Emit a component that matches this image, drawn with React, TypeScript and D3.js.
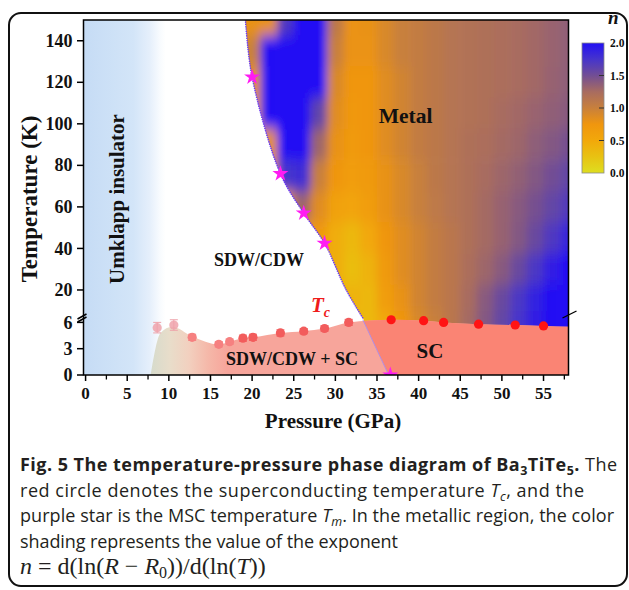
import React, { useEffect, useRef } from "react";
import * as d3 from "d3";

// axis ticks
const pressureTicks = [0, 5, 10, 15, 20, 25, 30, 35, 40, 45, 50, 55];
const tempTicksHigh = [20, 40, 60, 80, 100, 120, 140];
const tempTicksLow = [0, 3, 6];
const nTicks = [0.0, 0.5, 1.0, 1.5, 2.0];

// superconducting temperature Tc (red circles)
const tcP = [8.6, 10.6, 12.8, 16.0, 17.3, 18.9, 20.1, 23.4, 26.2, 28.7, 31.6, 36.7, 40.6, 43.0, 47.2, 51.6, 55.0];
const tcT = [5.4, 5.7, 4.3, 3.5, 3.8, 4.2, 4.3, 4.8, 5.0, 5.3, 6.0, 6.3, 6.2, 6.0, 5.8, 5.7, 5.6];
const tcErr = [0.6, 0.6, 0.35, 0.3, 0.3, 0.35, 0.35, 0.35, 0.3, 0.3, 0.35, 0, 0, 0, 0, 0, 0];

// MSC temperature Tm (magenta stars)
const tmP = [20.0, 23.4, 26.2, 28.7, 36.6];
const tmT = [122.5, 76, 57, 42.5, 0];

// SDW/CDW | metal boundary (dotted)
const bndP = [19.2, 20.0, 23.4, 26.2, 28.7, 31.3, 33.3];
const bndT = [150, 122.5, 76, 57, 42.5, 20, 6.5];

// line between SDW/CDW + SC and SC
const splitP = [33.3, 36.4];
const splitT = [6.3, 0];

// outline of the superconducting dome
const domeP = [7.8, 9.0, 10.4, 12.8, 16.0, 17.3, 18.9, 20.1, 23.4, 26.2, 28.7, 31.6, 36.7, 40.6, 43.0, 47.2, 51.6, 55.0, 58.0];
const domeT = [0, 4.8, 5.5, 4.4, 3.5, 3.8, 4.2, 4.3, 4.8, 5.0, 5.3, 6.0, 6.3, 6.2, 6.0, 5.8, 5.7, 5.6, 5.5];

// exponent n in the metallic region (rows = T, columns = P)
const nP = [18, 20, 22, 24, 26, 28, 30, 32, 34, 36, 38, 40, 42, 44, 46, 48, 50, 52, 54, 56, 58];
const nT = [150, 135, 120, 105, 90, 75, 60, 45, 30, 15, 6];
const nGrid = [
  [0.8, 0.8, 0.8, 1.7, 2.0, 2.0, 1.1, 0.78, 0.8, 0.9, 1.0, 1.05, 1.1, 1.15, 1.18, 1.2, 1.22, 1.25, 1.28, 1.32, 1.36],
  [0.8, 1.0, 2.0, 2.0, 2.0, 2.0, 1.0, 0.78, 0.78, 0.9, 1.0, 1.05, 1.1, 1.15, 1.18, 1.2, 1.22, 1.25, 1.28, 1.32, 1.36],
  [0.8, 0.8, 2.0, 2.0, 2.0, 2.0, 0.9, 0.75, 0.75, 0.85, 0.95, 1.05, 1.1, 1.15, 1.18, 1.2, 1.22, 1.25, 1.28, 1.33, 1.37],
  [0.8, 0.8, 2.0, 2.0, 2.0, 1.6, 0.85, 0.72, 0.75, 0.85, 0.95, 1.05, 1.1, 1.15, 1.18, 1.2, 1.25, 1.28, 1.32, 1.36, 1.4],
  [0.8, 0.8, 0.8, 2.0, 2.0, 1.3, 0.8, 0.7, 0.75, 0.85, 0.95, 1.05, 1.1, 1.15, 1.2, 1.22, 1.27, 1.3, 1.37, 1.42, 1.48],
  [0.8, 0.8, 0.8, 1.75, 1.8, 1.0, 0.75, 0.65, 0.7, 0.8, 0.9, 1.0, 1.1, 1.15, 1.2, 1.25, 1.3, 1.35, 1.42, 1.5, 1.58],
  [0.8, 0.8, 0.8, 0.8, 1.3, 0.85, 0.6, 0.55, 0.65, 0.8, 0.9, 1.0, 1.08, 1.15, 1.2, 1.27, 1.33, 1.4, 1.48, 1.58, 1.68],
  [0.7, 0.7, 0.7, 0.7, 0.7, 0.7, 0.45, 0.35, 0.5, 0.75, 0.85, 0.95, 1.05, 1.12, 1.2, 1.27, 1.33, 1.42, 1.55, 1.7, 1.85],
  [0.5, 0.5, 0.5, 0.5, 0.5, 0.5, 0.45, 0.3, 0.4, 0.7, 0.85, 0.95, 1.05, 1.12, 1.22, 1.3, 1.4, 1.55, 1.72, 1.9, 2.0],
  [0.4, 0.4, 0.4, 0.4, 0.4, 0.4, 0.4, 0.4, 0.35, 0.65, 0.8, 0.95, 1.05, 1.12, 1.25, 1.4, 1.55, 1.72, 1.88, 2.0, 2.0],
  [0.35, 0.35, 0.35, 0.35, 0.35, 0.35, 0.35, 0.35, 0.35, 0.5, 0.75, 0.9, 1.0, 1.12, 1.27, 1.42, 1.58, 1.75, 1.9, 2.0, 2.0],
];

// colour map of n
const nStops = [0, 0.25, 0.5, 0.75, 1, 1.25, 1.5, 1.75, 2];
const nColors = ["#dede20", "#e8c212", "#f2a80a", "#f0960e", "#c8803c", "#a86c60", "#724e94", "#4634cc", "#2210f4"];

const App = () => {
  const ref = useRef<SVGSVGElement | null>(null);

  useEffect(() => {
    const svg = d3.select(ref.current);
    svg.selectAll("*").remove();

    const serif = "'Liberation Serif', 'Times New Roman', serif";
    const x = d3.scaleLinear().domain([-0.25, 58]).range([83.5, 568.5]);
    // broken temperature axis: 0-6.5 K stretched, 6.5-150 K compressed
    const y = d3.scaleLinear().domain([0, 6.5, 150]).range([375, 318, 20]);
    const nColor = d3.scaleLinear<string>().domain(nStops).range(nColors).clamp(true);

    const x0 = x(-0.25), x1 = x(58), yTop = y(150), yBot = y(0);

    const defs = svg.append("defs");
    defs.append("clipPath").attr("id", "plot").append("rect")
      .attr("x", x0).attr("y", yTop).attr("width", x1 - x0).attr("height", yBot - yTop);

    const umk = defs.append("linearGradient").attr("id", "umk")
      .attr("gradientUnits", "userSpaceOnUse")
      .attr("x1", x(0)).attr("x2", x(9.6)).attr("y1", 0).attr("y2", 0);
    [[0, "#c6dcf5"], [0.6, "#d3e5f8"], [0.8, "#e5effb"], [0.93, "#f8fbfe"], [1, "#ffffff"]].forEach(([o, c]) =>
      umk.append("stop").attr("offset", o).attr("stop-color", c));

    const domeG = defs.append("linearGradient").attr("id", "domeG")
      .attr("gradientUnits", "userSpaceOnUse")
      .attr("x1", x(7.8)).attr("x2", x(17)).attr("y1", 0).attr("y2", 0);
    [[0, "#d6dbcc"], [0.25, "#e8ddca"], [0.5, "#f2d0bf"], [0.75, "#f5b8a9"], [1, "#f7a59b"]].forEach(([o, c]) =>
      domeG.append("stop").attr("offset", o).attr("stop-color", c));

    const cbG = defs.append("linearGradient").attr("id", "cbG")
      .attr("x1", 0).attr("y1", 1).attr("x2", 0).attr("y2", 0);
    nStops.forEach((s) => cbG.append("stop").attr("offset", s / 2).attr("stop-color", nColor(s)));

    const soft = defs.append("filter").attr("id", "soft")
      .attr("filterUnits", "userSpaceOnUse")
      .attr("x", 0).attr("y", 0).attr("width", 629).attr("height", 590);
    soft.append("feGaussianBlur").attr("stdDeviation", "4.5 7");

    const bndPts = bndP.map((p, i) => [p, bndT[i]]);
    const bndLine = d3.line<number[]>().x((d) => x(d[0])).y((d) => y(d[1])).curve(d3.curveCatmullRom.alpha(0.5));
    const metalD = bndLine(bndPts) +
      `L${x(splitP[1])},${yBot}L${x1 + 30},${yBot + 30}L${x1 + 30},${yTop - 30}L${x(bndP[0] - 0.4)},${yTop - 30}Z`;
    defs.append("clipPath").attr("id", "metal").append("path").attr("d", metalD);

    const sx0 = x(splitP[0]), sy0 = y(splitT[0]), sx1 = x(splitP[1]), sy1 = y(splitT[1]);
    const k = (sx1 - sx0) / (sy1 - sy0);
    const cTop = y(6.5) - 6, cBot = yBot + 6;
    defs.append("clipPath").attr("id", "sc").append("path")
      .attr("d", `M${sx0 + k * (cTop - sy0)},${cTop}L${sx0 + k * (cBot - sy0)},${cBot}L${x1 + 10},${cBot}L${x1 + 10},${cTop}Z`);

    // background
    svg.append("rect").attr("width", 629).attr("height", 590).attr("fill", "#fff");
    svg.append("rect").attr("x", x0).attr("y", yTop).attr("width", x(10) - x0).attr("height", yBot - yTop)
      .attr("fill", "url(#umk)");

    // n map
    const colEdges = nP.map((p, i) => (i === 0 ? x(p) - 30 : (x(nP[i - 1]) + x(p)) / 2));
    colEdges.push(x(nP[nP.length - 1]) + 30);
    const rowEdges = nT.map((t, j) => (j === 0 ? y(t) - 30 : (y(nT[j - 1]) + y(t)) / 2));
    rowEdges.push(yBot + 30);
    const heat = svg.append("g").attr("clip-path", "url(#plot)")
      .append("g").attr("clip-path", "url(#metal)")
      .append("g").attr("filter", "url(#soft)");
    nGrid.forEach((row, j) => {
      row.forEach((v, i) => {
        heat.append("rect")
          .attr("x", colEdges[i]).attr("y", rowEdges[j])
          .attr("width", colEdges[i + 1] - colEdges[i] + 0.6)
          .attr("height", rowEdges[j + 1] - rowEdges[j] + 0.6)
          .attr("fill", nColor(v));
      });
    });

    // superconducting dome
    const domePts = domeP.map((p, i) => [p, domeT[i]]);
    const domeLine = d3.line<number[]>().x((d) => x(d[0])).y((d) => y(d[1])).curve(d3.curveMonotoneX);
    const domeD = domeLine(domePts) + `L${x1 + 5},${yBot + 5}L${x(domeP[0])},${yBot + 5}Z`;
    const domeLayer = svg.append("g").attr("clip-path", "url(#plot)");
    domeLayer.append("path").attr("d", domeD).attr("fill", "url(#domeG)");
    domeLayer.append("g").attr("clip-path", "url(#sc)")
      .append("path").attr("d", domeD).attr("fill", "#fa8474");
    domeLayer.append("line")
      .attr("x1", sx0).attr("y1", sy0).attr("x2", sx1).attr("y2", sy1)
      .attr("stroke", "#b08de6").attr("stroke-width", 1);

    // dotted phase boundary
    domeLayer.append("path").attr("d", bndLine(bndPts))
      .attr("fill", "none").attr("stroke", "#6c3df2").attr("stroke-width", 1.6)
      .attr("stroke-dasharray", "0.1 2.2").attr("stroke-linecap", "round");

    // Tm stars
    const star = d3.symbol().type(d3.symbolStar).size(80);
    tmP.forEach((p, i) => {
      domeLayer.append("path").attr("d", star())
        .attr("transform", `translate(${x(p)},${y(tmT[i])})`)
        .attr("fill", "#ff1cf2");
    });

    // Tc circles with error bars
    tcP.forEach((p, i) => {
      const c = p < 11 ? "#eea2aa" : p < 18 ? "#f68080" : p < 33 ? "#f25c5c" : "#ff1414";
      const cx = x(p), cy = y(tcT[i]);
      if (tcErr[i] > 0) {
        const ya = y(tcT[i] - tcErr[i]), yb = y(tcT[i] + tcErr[i]);
        domeLayer.append("path")
          .attr("d", `M${cx},${ya}V${yb}M${cx - 4},${ya}H${cx + 4}M${cx - 4},${yb}H${cx + 4}`)
          .attr("stroke", c).attr("stroke-width", 1).attr("fill", "none");
      }
      domeLayer.append("circle").attr("cx", cx).attr("cy", cy).attr("r", 4.6)
        .attr("fill", c).attr("opacity", p < 11 ? 0.85 : 1);
    });

    // region labels
    const lab = svg.append("g").attr("font-family", serif).attr("font-weight", 700).attr("fill", "#111");
    lab.append("text").attr("transform", `translate(124,199) rotate(-90)`)
      .attr("text-anchor", "middle").attr("font-size", 21).text("Umklapp insulator");
    lab.append("text").attr("x", 405.5).attr("y", 123).attr("text-anchor", "middle")
      .attr("font-size", 21.5).text("Metal");
    lab.append("text").attr("x", 259).attr("y", 266).attr("text-anchor", "middle")
      .attr("font-size", 18).text("SDW/CDW");
    lab.append("text").attr("x", 292).attr("y", 365).attr("text-anchor", "middle")
      .attr("font-size", 18).text("SDW/CDW + SC");
    lab.append("text").attr("x", 430).attr("y", 358).attr("text-anchor", "middle")
      .attr("font-size", 21).text("SC");
    const tcLab = lab.append("text").attr("x", 311).attr("y", 312).attr("fill", "#ef1b1b")
      .attr("font-style", "italic").attr("font-size", 21);
    tcLab.append("tspan").text("T");
    tcLab.append("tspan").attr("dy", 5).attr("font-size", 14).text("c");

    // axes
    const ax = svg.append("g").attr("stroke", "#000").attr("fill", "none");
    ax.append("rect").attr("x", x0).attr("y", yTop).attr("width", x1 - x0).attr("height", yBot - yTop)
      .attr("stroke-width", 1.5);
    [...tempTicksHigh, ...tempTicksLow].forEach((t) => {
      ax.append("line").attr("x1", x0 - 6.5).attr("x2", x0).attr("y1", y(t)).attr("y2", y(t)).attr("stroke-width", 1.5);
    });
    pressureTicks.forEach((p) => {
      ax.append("line").attr("x1", x(p)).attr("x2", x(p)).attr("y1", yBot).attr("y2", yBot + 6).attr("stroke-width", 1.5);
      if (p + 2.5 < 58) {
        ax.append("line").attr("x1", x(p + 2.5)).attr("x2", x(p + 2.5)).attr("y1", yBot).attr("y2", yBot + 4.5).attr("stroke-width", 1.3);
      }
    });
    // axis break marks
    const yb = y(6.5);
    ax.append("path").attr("d", `M${x0 - 6},${yb + 1}L${x0 + 3},${yb - 4}M${x0 - 6},${yb + 4}L${x0 + 3},${yb - 1}`)
      .attr("stroke-width", 1.5);
    ax.append("path").attr("d", `M${x1 - 6},${yb}L${x1 + 8},${yb - 7}`).attr("stroke-width", 1.3);

    const tl = svg.append("g").attr("font-family", serif).attr("font-weight", 700).attr("fill", "#111");
    [...tempTicksHigh, ...tempTicksLow].forEach((t) => {
      tl.append("text").attr("x", x0 - 11).attr("y", y(t)).attr("dy", "0.34em")
        .attr("text-anchor", "end").attr("font-size", 18).text(t);
    });
    pressureTicks.forEach((p) => {
      tl.append("text").attr("x", x(p)).attr("y", 399).attr("text-anchor", "middle")
        .attr("font-size", 17).text(p);
    });
    tl.append("text").attr("x", 333).attr("y", 428).attr("text-anchor", "middle")
      .attr("font-size", 21).text("Pressure (GPa)");
    tl.append("text").attr("transform", "translate(37,199) rotate(-90)").attr("text-anchor", "middle")
      .attr("font-size", 23).text("Temperature (K)");

    // colour bar
    const cb = d3.scaleLinear().domain([0, 2]).range([173, 43]);
    svg.append("rect").attr("x", 582).attr("y", cb(2)).attr("width", 22).attr("height", cb(0) - cb(2))
      .attr("fill", "url(#cbG)").attr("stroke", "#8a8a8a").attr("stroke-width", 0.8);
    nTicks.forEach((v) => {
      if (v > 0 && v < 2) {
        svg.append("line").attr("x1", 599).attr("x2", 604).attr("y1", cb(v)).attr("y2", cb(v))
          .attr("stroke", "#333").attr("stroke-width", 1);
      }
      tl.append("text").attr("x", 610).attr("y", cb(v)).attr("dy", "0.35em")
        .attr("font-size", 11.5).text(v.toFixed(1));
    });
    tl.append("text").attr("x", 608).attr("y", 24).attr("font-style", "italic")
      .attr("font-size", 19).text("n");

    // outer frame
    svg.append("rect").attr("x", 9).attr("y", 13).attr("width", 618).attr("height", 573).attr("rx", 12)
      .attr("fill", "none").attr("stroke", "#111").attr("stroke-width", 2);

    // caption
    const cap = svg.append("g").attr("font-family", "'Open Sans', sans-serif").attr("font-size", 18)
      .attr("fill", "#231f20");
    const l1 = cap.append("text").attr("x", 20).attr("y", 471).attr("textLength", 597);
    l1.append("tspan").attr("font-weight", 700).text("Fig. 5 The temperature-pressure phase diagram of Ba");
    l1.append("tspan").attr("font-weight", 700).attr("font-size", 12.5).attr("dy", 4).text("3");
    l1.append("tspan").attr("font-weight", 700).attr("dy", -4).text("TiTe");
    l1.append("tspan").attr("font-weight", 700).attr("font-size", 12.5).attr("dy", 4).text("5");
    l1.append("tspan").attr("font-weight", 700).attr("dy", -4).text(".");
    l1.append("tspan").text(" The");
    const l2 = cap.append("text").attr("x", 20).attr("y", 496.5).attr("textLength", 564);
    l2.append("tspan").text("red circle denotes the superconducting temperature ");
    l2.append("tspan").attr("font-style", "italic").text("T");
    l2.append("tspan").attr("font-style", "italic").attr("font-size", 12.5).attr("dy", 4).text("c");
    l2.append("tspan").attr("dy", -4).text(", and the");
    const l3 = cap.append("text").attr("x", 20).attr("y", 522).attr("textLength", 594);
    l3.append("tspan").text("purple star is the MSC temperature ");
    l3.append("tspan").attr("font-style", "italic").text("T");
    l3.append("tspan").attr("font-style", "italic").attr("font-size", 12.5).attr("dy", 4).text("m");
    l3.append("tspan").attr("dy", -4).text(". In the metallic region, the color");
    cap.append("text").attr("x", 20).attr("y", 547.5).attr("textLength", 378)
      .text("shading represents the value of the exponent");
    const l5 = cap.append("text").attr("x", 20).attr("y", 574).attr("font-family", serif).attr("font-size", 24);
    l5.append("tspan").attr("font-style", "italic").text("n");
    l5.append("tspan").text(" = d(ln(");
    l5.append("tspan").attr("font-style", "italic").text("R");
    l5.append("tspan").text(" \u2212 ");
    l5.append("tspan").attr("font-style", "italic").text("R");
    l5.append("tspan").attr("font-size", 16).attr("dy", 4).text("0");
    l5.append("tspan").attr("dy", -4).text("))/d(ln(");
    l5.append("tspan").attr("font-style", "italic").text("T");
    l5.append("tspan").text("))");
  }, []);

  return (
    <svg ref={ref} width={629} height={590} style={{ position: "absolute", left: 0, top: 0, display: "block" }} />
  );
};

export default App;
